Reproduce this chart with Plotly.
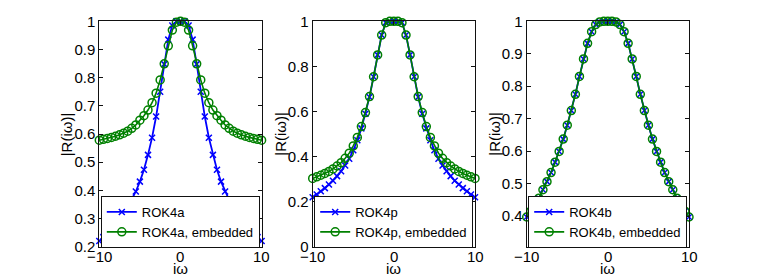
import plotly.graph_objects as go

W, H = 761, 277

# ---- data ----
omega = [-10, -9.5, -9, -8.5, -8, -7.5, -7, -6.5, -6, -5.5, -5, -4.5, -4, -3.5, -3, -2.5, -2, -1.5, -1, -0.5,
         0, 0.5, 1, 1.5, 2, 2.5, 3, 3.5, 4, 4.5, 5, 5.5, 6, 6.5, 7, 7.5, 8, 8.5, 9, 9.5, 10]

rok4a = [0.22, 0.234, 0.249, 0.264, 0.28, 0.298, 0.318, 0.34, 0.366, 0.396, 0.431, 0.473, 0.526, 0.587, 0.662,
         0.75, 0.848, 0.935, 0.985, 1.0, 1.0, 1.0, 0.985, 0.935, 0.848, 0.75, 0.662, 0.587, 0.526, 0.473, 0.431,
         0.396, 0.366, 0.34, 0.318, 0.298, 0.28, 0.264, 0.249, 0.234, 0.22]
rok4a_emb = [0.578, 0.581, 0.584, 0.588, 0.592, 0.597, 0.603, 0.61, 0.62, 0.632, 0.649, 0.665, 0.685, 0.711, 0.745,
             0.792, 0.849, 0.913, 0.969, 0.997, 1.0, 0.997, 0.969, 0.913, 0.849, 0.792, 0.745, 0.711, 0.685, 0.665,
             0.649, 0.632, 0.62, 0.61, 0.603, 0.597, 0.592, 0.588, 0.584, 0.581, 0.578]

rok4p = [0.219, 0.232, 0.246, 0.26, 0.276, 0.293, 0.313, 0.335, 0.36, 0.39, 0.428, 0.472, 0.525, 0.59, 0.664,
         0.754, 0.851, 0.939, 0.994, 1.0, 1.0, 1.0, 0.994, 0.939, 0.851, 0.754, 0.664, 0.59, 0.525, 0.472, 0.428,
         0.39, 0.36, 0.335, 0.313, 0.293, 0.276, 0.26, 0.246, 0.232, 0.219]
rok4p_emb = [0.303, 0.31, 0.317, 0.325, 0.334, 0.345, 0.358, 0.373, 0.392, 0.415, 0.447, 0.485, 0.533, 0.595, 0.666,
             0.754, 0.851, 0.939, 0.994, 1.0, 1.0, 1.0, 0.994, 0.939, 0.851, 0.754, 0.666, 0.595, 0.533, 0.485,
             0.447, 0.415, 0.392, 0.373, 0.358, 0.345, 0.334, 0.325, 0.317, 0.31, 0.303]

rok4b = [0.397, 0.415, 0.435, 0.455, 0.481, 0.506, 0.534, 0.566, 0.599, 0.637, 0.68, 0.725, 0.775, 0.83, 0.884,
         0.932, 0.968, 0.99, 0.998, 1.0, 1.0, 1.0, 0.998, 0.99, 0.968, 0.932, 0.884, 0.83, 0.775, 0.725, 0.68,
         0.637, 0.599, 0.566, 0.534, 0.506, 0.481, 0.455, 0.435, 0.415, 0.397]
rok4b_emb = [0.397, 0.415, 0.435, 0.455, 0.481, 0.506, 0.534, 0.566, 0.599, 0.637, 0.68, 0.725, 0.775, 0.83, 0.884,
             0.932, 0.968, 0.99, 0.998, 1.0, 1.0, 1.0, 0.998, 0.99, 0.968, 0.932, 0.884, 0.83, 0.775, 0.725, 0.68,
             0.637, 0.599, 0.566, 0.534, 0.506, 0.481, 0.455, 0.435, 0.415, 0.397]

names = [("ROK4a", "ROK4a, embedded"), ("ROK4p", "ROK4p, embedded"), ("ROK4b", "ROK4b, embedded")]
series = [(rok4a, rok4a_emb), (rok4p, rok4p_emb), (rok4b, rok4b_emb)]

x_ticks = [-10, 0, 10]
x_ticktext = ["\u221210", "0", "10"]
y_ticks = [
    [0.2, 0.3, 0.4, 0.5, 0.6, 0.7, 0.8, 0.9, 1.0],
    [0, 0.2, 0.4, 0.6, 0.8, 1.0],
    [0.4, 0.5, 0.6, 0.7, 0.8, 0.9, 1.0],
]
y_ticktext = [
    ["0.2", "0.3", "0.4", "0.5", "0.6", "0.7", "0.8", "0.9", "1"],
    ["0", "0.2", "0.4", "0.6", "0.8", "1"],
    ["0.4", "0.5", "0.6", "0.7", "0.8", "0.9", "1"],
]
y_ranges = [[0.2, 1.0], [0.0, 1.0], [0.3055, 1.0]]

# ---- layout geometry (pixels) ----
ax_left = [99.3, 312.7, 526.7]
ax_w = 162.3
ax_top, ax_bot = 21.3, 246.7

FONT = "Liberation Sans, Arial, Helvetica, sans-serif"
BLUE = "#0000ff"
GREEN = "#008000"
AXC = "#111111"

fig = go.Figure()

for i in range(3):
    xa = "x" if i == 0 else f"x{i+1}"
    ya = "y" if i == 0 else f"y{i+1}"
    lg = "legend" if i == 0 else f"legend{i+1}"
    s1, s2 = series[i]
    n1, n2 = names[i]
    fig.add_trace(go.Scatter(
        x=omega, y=s1, name=n1, mode="lines+markers", xaxis=xa, yaxis=ya, legend=lg,
        line=dict(color=BLUE, width=1.8),
        marker=dict(symbol="x-thin", size=6, line=dict(color=BLUE, width=1.5)),
        cliponaxis=False,
    ))
    fig.add_trace(go.Scatter(
        x=omega, y=s2, name=n2, mode="lines+markers", xaxis=xa, yaxis=ya, legend=lg,
        line=dict(color=GREEN, width=1.6),
        marker=dict(symbol="circle-open", size=8, color=GREEN, line=dict(color=GREEN, width=1.5)),
        cliponaxis=False,
    ))

layout = dict(
    width=W, height=H,
    margin=dict(l=0, r=0, t=0, b=0, autoexpand=False),
    paper_bgcolor="white", plot_bgcolor="white",
    font=dict(family=FONT, size=14, color="black"),
    showlegend=True,
    annotations=[],
)

ydom = [1 - ax_bot / H, 1 - ax_top / H]
for i in range(3):
    xk = "xaxis" if i == 0 else f"xaxis{i+1}"
    yk = "yaxis" if i == 0 else f"yaxis{i+1}"
    xa = "x" if i == 0 else f"x{i+1}"
    ya = "y" if i == 0 else f"y{i+1}"
    x0 = ax_left[i] / W
    x1 = (ax_left[i] + ax_w) / W
    layout[xk] = dict(
        domain=[x0, x1], anchor=ya, range=[-10, 10],
        tickvals=x_ticks, showticklabels=False,
        ticks="inside", ticklen=4, tickcolor=AXC, tickwidth=1,
        showline=True, linecolor=AXC, linewidth=1, mirror="ticks",
        showgrid=False, zeroline=False, automargin=False,
    )
    layout[yk] = dict(
        domain=ydom, anchor=xa, range=y_ranges[i],
        tickvals=y_ticks[i], ticktext=y_ticktext[i],
        ticks="inside", ticklen=4, tickcolor=AXC, tickwidth=1,
        showline=True, linecolor=AXC, linewidth=1, mirror="ticks",
        showgrid=False, zeroline=False, automargin=False,
        tickfont=dict(size=15, family=FONT, color="black"),
    )
    lg = "legend" if i == 0 else f"legend{i+1}"
    layout[lg] = dict(
        x=(ax_left[i] + 1.5) / W, y=1 - 222 / H, xanchor="left", yanchor="middle",
        bgcolor="white", bordercolor="#111111", borderwidth=1,
        font=dict(size=13, family=FONT, color="black"),
        tracegroupgap=0, itemwidth=30,
    )
    # x tick labels
    for v, t in zip(x_ticks, x_ticktext):
        layout["annotations"].append(dict(
            text=t, xref=xa, yref="paper", x=v, y=1 - 256.5 / H,
            xanchor="center", yanchor="middle", showarrow=False,
            font=dict(size=15, family=FONT, color="black"),
        ))
    # axis titles
    layout["annotations"].append(dict(
        text="|R(i\u03c9)|", textangle=-90, xref="paper", yref="paper",
        x=(ax_left[i] - 33) / W, y=1 - ((ax_top + ax_bot) / 2) / H,
        xanchor="center", yanchor="middle", showarrow=False,
        font=dict(size=15, family=FONT, color="black"),
    ))
    layout["annotations"].append(dict(
        text="i\u03c9", xref="paper", yref="paper",
        x=(ax_left[i] + ax_w / 2) / W, y=1 - 268.5 / H,
        xanchor="center", yanchor="middle", showarrow=False,
        font=dict(size=15, family=FONT, color="black"),
    ))

fig.update_layout(**layout)
fig.write_html("out.html", config={"displayModeBar": False},
               post_script="document.body.style.margin='0';document.body.style.overflow='hidden';")
